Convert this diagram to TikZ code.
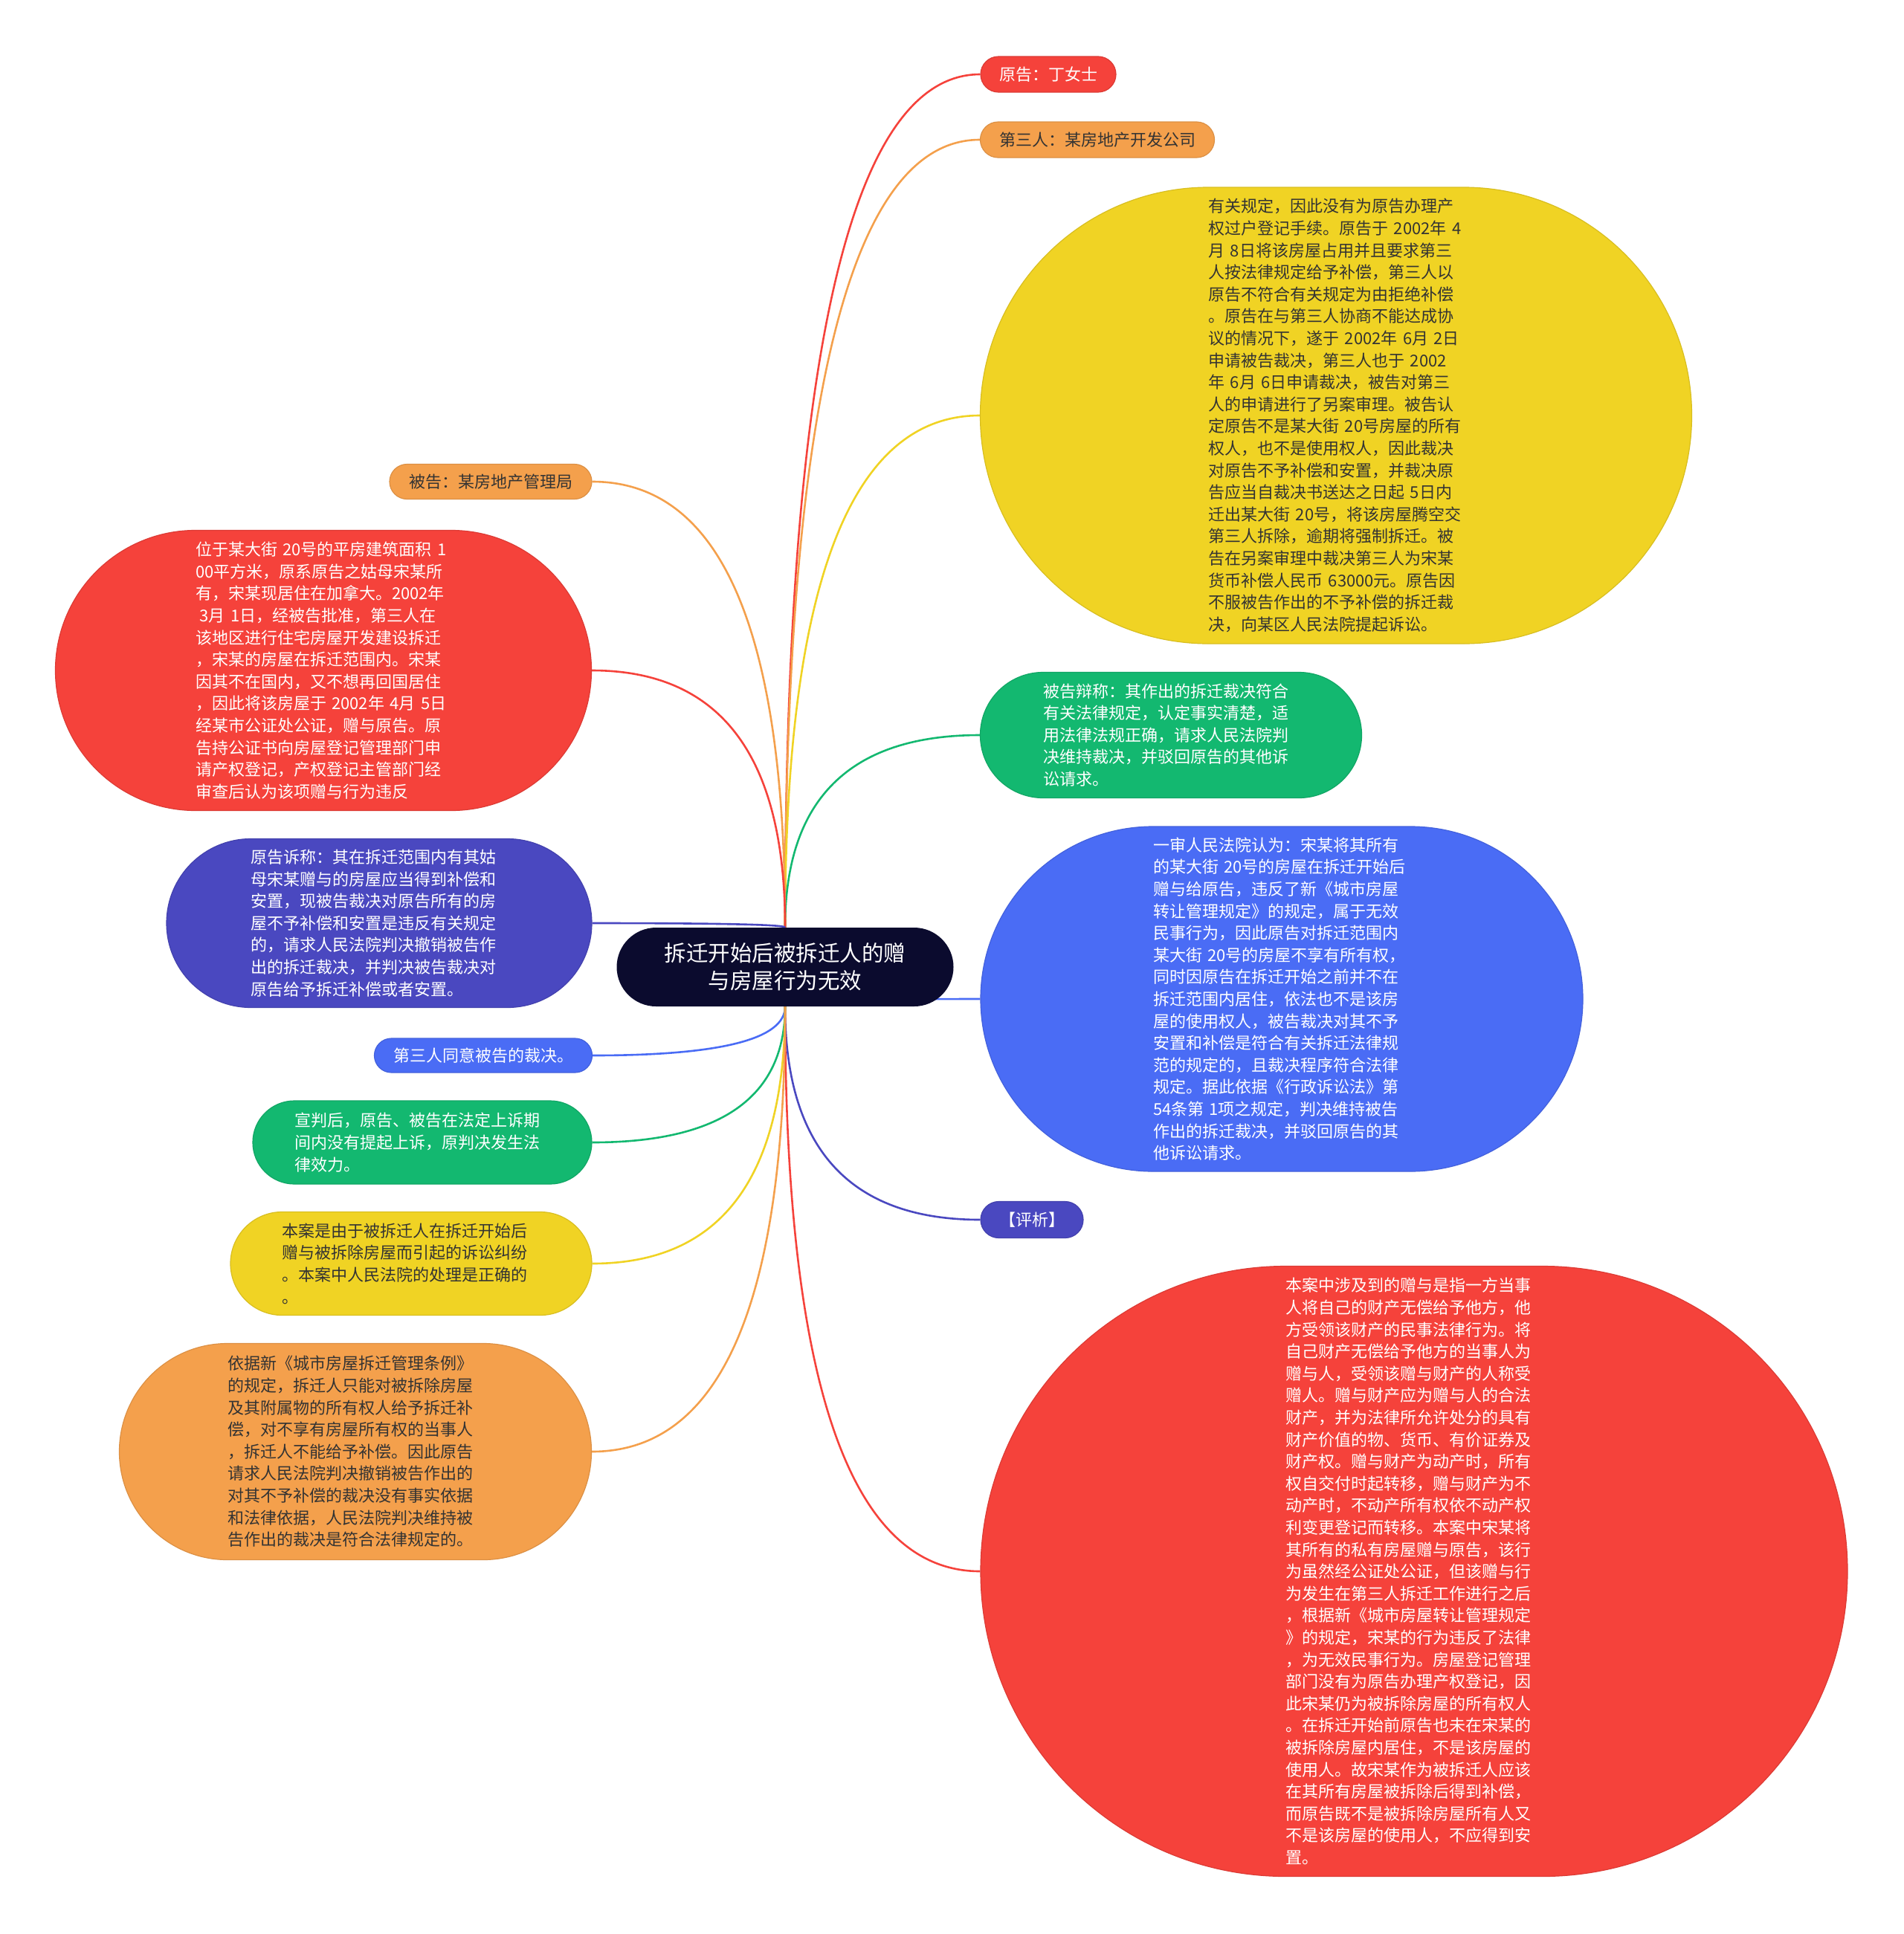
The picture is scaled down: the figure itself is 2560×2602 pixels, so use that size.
\documentclass[tikz,border=0pt]{standalone}
\usepackage{fontspec}
\setmainfont{Noto Sans CJK SC}
\usetikzlibrary{shapes.misc,calc}
\definecolor{cRed}{HTML}{F5423B}
\definecolor{cOrange}{HTML}{F4A04C}
\definecolor{cYellow}{HTML}{F0D324}
\definecolor{cGreen}{HTML}{13B870}
\definecolor{cBlue}{HTML}{4A6CF5}
\definecolor{cIndigo}{HTML}{4A48C0}
\definecolor{cRoot}{HTML}{0B0B2E}
\definecolor{cDark}{HTML}{333333}
\pgfdeclarelayer{bg}
\pgfsetlayers{bg,main}
% #1 start anchor of root, #2 target node, #3 target anchor, #4 colour
\newcommand\mylink[4]{\draw[conn,#4] (root.#1) .. controls ($(root.#1)!0.667!(root.#1 |- #2.#3)$) and ($(#2.#3)!0.667!(root.#1 |- #2.#3)$) .. (#2.#3);}
\begin{document}
\begin{tikzpicture}[x=1pt,y=-1pt,
  box/.style={rounded rectangle, inner xsep=0pt, inner ysep=0pt, align=left,
    font=\fontsize{22}{29.6}\selectfont, line width=1.2pt},
  redbox/.style={box, fill=cRed, draw=cRed!90!black, text=white},
  orangebox/.style={box, fill=cOrange, draw=cOrange!90!black, text=cDark},
  yellowbox/.style={box, fill=cYellow, draw=cYellow!90!black, text=cDark},
  greenbox/.style={box, fill=cGreen, draw=cGreen!90!black, text=white},
  bluebox/.style={box, fill=cBlue, draw=cBlue!90!black, text=white},
  indigobox/.style={box, fill=cIndigo, draw=cIndigo!90!black, text=white},
  conn/.style={line width=2.6pt}]
\useasboundingbox (0,0) rectangle (2560,2602);

% root
\node[rounded rectangle, fill=cRoot, text=white, inner xsep=0pt, inner ysep=0pt,
  minimum width=453pt, minimum height=106pt, align=center,
  font=\fontsize{29.5}{37}\selectfont] (root) at (1056,1301)
  {拆迁开始后被拆迁人的赠\\与房屋行为无效};

% right side
\node[redbox, minimum width=182pt, minimum height=48pt] (yuan) at (1410,100) {原告：丁女士};
\node[orangebox, minimum width=315pt, minimum height=48pt] (disan) at (1476,188) {第三人：某房地产开发公司};
\node[yellowbox, minimum width=957pt, minimum height=614pt, text width=343pt] (yR) at (1797,559) {有关规定，因此没有为原告办理产\\
权过户登记手续。原告于 2002年 4\\
月 8日将该房屋占用并且要求第三\\
人按法律规定给予补偿，第三人以\\
原告不符合有关规定为由拒绝补偿\\
。原告在与第三人协商不能达成协\\
议的情况下，遂于 2002年 6月 2日\\
申请被告裁决，第三人也于 2002\\
年 6月 6日申请裁决，被告对第三\\
人的申请进行了另案审理。被告认\\
定原告不是某大街 20号房屋的所有\\
权人，也不是使用权人，因此裁决\\
对原告不予补偿和安置，并裁决原\\
告应当自裁决书送达之日起 5日内\\
迁出某大街 20号，将该房屋腾空交\\
第三人拆除，逾期将强制拆迁。被\\
告在另案审理中裁决第三人为宋某\\
货币补偿人民币 63000元。原告因\\
不服被告作出的不予补偿的拆迁裁\\
决，向某区人民法院提起诉讼。};
\node[greenbox, minimum width=513pt, minimum height=169pt, text width=344pt] (gR) at (1575,989) {被告辩称：其作出的拆迁裁决符合\\
有关法律规定，认定事实清楚，适\\
用法律法规正确，请求人民法院判\\
决维持裁决，并驳回原告的其他诉\\
讼请求。};
\node[bluebox, minimum width=810pt, minimum height=464pt, text width=346pt] (bR) at (1724,1344) {一审人民法院认为：宋某将其所有\\
的某大街 20号的房屋在拆迁开始后\\
赠与给原告，违反了新《城市房屋\\
转让管理规定》的规定，属于无效\\
民事行为，因此原告对拆迁范围内\\
某大街 20号的房屋不享有所有权，\\
同时因原告在拆迁开始之前并不在\\
拆迁范围内居住，依法也不是该房\\
屋的使用权人，被告裁决对其不予\\
安置和补偿是符合有关拆迁法律规\\
范的规定的，且裁决程序符合法律\\
规定。据此依据《行政诉讼法》第\\
54条第 1项之规定，判决维持被告\\
作出的拆迁裁决，并驳回原告的其\\
他诉讼请求。};
\node[indigobox, minimum width=138pt, minimum height=49pt] (px) at (1388,1641) {【评析】};
\node[redbox, minimum width=1166pt, minimum height=821pt, text width=345pt] (rR) at (1902,2114) {本案中涉及到的赠与是指一方当事\\
人将自己的财产无偿给予他方，他\\
方受领该财产的民事法律行为。将\\
自己财产无偿给予他方的当事人为\\
赠与人，受领该赠与财产的人称受\\
赠人。赠与财产应为赠与人的合法\\
财产，并为法律所允许处分的具有\\
财产价值的物、货币、有价证券及\\
财产权。赠与财产为动产时，所有\\
权自交付时起转移，赠与财产为不\\
动产时，不动产所有权依不动产权\\
利变更登记而转移。本案中宋某将\\
其所有的私有房屋赠与原告，该行\\
为虽然经公证处公证，但该赠与行\\
为发生在第三人拆迁工作进行之后\\
，根据新《城市房屋转让管理规定\\
》的规定，宋某的行为违反了法律\\
，为无效民事行为。房屋登记管理\\
部门没有为原告办理产权登记，因\\
此宋某仍为被拆除房屋的所有权人\\
。在拆迁开始前原告也未在宋某的\\
被拆除房屋内居住，不是该房屋的\\
使用人。故宋某作为被拆迁人应该\\
在其所有房屋被拆除后得到补偿，\\
而原告既不是被拆除房屋所有人又\\
不是该房屋的使用人，不应得到安\\
置。};

% left side
\node[orangebox, minimum width=272pt, minimum height=47pt] (beigao) at (660,648) {被告：某房地产管理局};
\node[redbox, minimum width=721pt, minimum height=377pt, text width=344pt] (rL) at (435,902) {位于某大街 20号的平房建筑面积 1\\
00平方米，原系原告之姑母宋某所\\
有，宋某现居住在加拿大。2002年\\
\hspace*{0.25em}3月 1日，经被告批准，第三人在\\
该地区进行住宅房屋开发建设拆迁\\
，宋某的房屋在拆迁范围内。宋某\\
因其不在国内，又不想再回国居住\\
，因此将该房屋于 2002年 4月 5日\\
经某市公证处公证，赠与原告。原\\
告持公证书向房屋登记管理部门申\\
请产权登记，产权登记主管部门经\\
审查后认为该项赠与行为违反};
\node[indigobox, minimum width=572pt, minimum height=227pt, text width=345pt] (pL) at (510,1242) {原告诉称：其在拆迁范围内有其姑\\
母宋某赠与的房屋应当得到补偿和\\
安置，现被告裁决对原告所有的房\\
屋不予补偿和安置是违反有关规定\\
的，请求人民法院判决撤销被告作\\
出的拆迁裁决，并判决被告裁决对\\
原告给予拆迁补偿或者安置。};
\node[bluebox, minimum width=293pt, minimum height=46pt] (bL) at (650,1420) {第三人同意被告的裁决。};
\node[greenbox, minimum width=456pt, minimum height=112pt, text width=344pt] (gL) at (568,1537) {宣判后，原告、被告在法定上诉期\\
间内没有提起上诉，原判决发生法\\
律效力。};
\node[yellowbox, minimum width=486pt, minimum height=139pt, text width=347pt] (yL) at (553,1700) {本案是由于被拆迁人在拆迁开始后\\
赠与被拆除房屋而引起的诉讼纠纷\\
。本案中人民法院的处理是正确的\\
。};
\node[orangebox, minimum width=635pt, minimum height=291pt, text width=344pt] (oL) at (478,1953) {依据新《城市房屋拆迁管理条例》\\
的规定，拆迁人只能对被拆除房屋\\
及其附属物的所有权人给予拆迁补\\
偿，对不享有房屋所有权的当事人\\
，拆迁人不能给予补偿。因此原告\\
请求人民法院判决撤销被告作出的\\
对其不予补偿的裁决没有事实依据\\
和法律依据，人民法院判决维持被\\
告作出的裁决是符合法律规定的。};

\begin{pgfonlayer}{bg}
\mylink{north}{yuan}{west}{cRed}
\mylink{north}{disan}{west}{cOrange}
\mylink{north}{yR}{west}{cYellow}
\mylink{north}{gR}{west}{cGreen}
\mylink{south}{bR}{west}{cBlue}
\mylink{south}{px}{west}{cIndigo}
\mylink{south}{rR}{west}{cRed}
\mylink{north}{beigao}{east}{cOrange}
\mylink{north}{rL}{east}{cRed}
\mylink{north}{pL}{east}{cIndigo}
\mylink{south}{bL}{east}{cBlue}
\mylink{south}{gL}{east}{cGreen}
\mylink{south}{yL}{east}{cYellow}
\mylink{south}{oL}{east}{cOrange}
\end{pgfonlayer}
\end{tikzpicture}
\end{document}
